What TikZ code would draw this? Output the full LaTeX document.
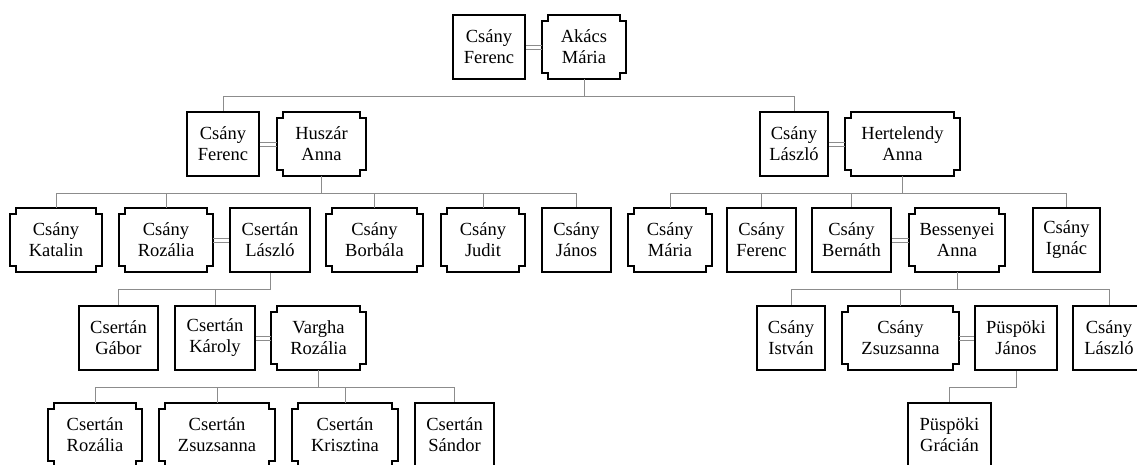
\documentclass[tikz,border=0pt]{standalone}
\usepackage{fontspec}
\setmainfont{Liberation Serif}
\usetikzlibrary{calc}
\tikzset{ frame/.style  = { draw       = black
                          , line width = 1.5pt
                          , line join  = miter
                          },
          person/.style = { rectangle
                          , minimum height = 64pt
                          , inner sep      = 0pt
                          , align          = center
                          , font           = \fontsize{18.5}{21}\selectfont
                          },
          male/.style   = { person
                          , frame
                          },
          female/.style = { person },
          link/.style   = { draw       = black!45
                          , line width = 1pt
                          }
        }
\begin{document}
\begin{tikzpicture}[x=1pt, y=-1pt]
      \useasboundingbox (0,0) rectangle (1137,464);
      \clip (0,0) rectangle (1137,464);
      % generation 1
       \node[male,   minimum width=72]  (f1) at ( 489, 47) {Csány\\Ferenc};
       \node[female, minimum width=84]  (m1) at ( 584, 47) {Akács\\Mária};
      % generation 2
       \node[male,   minimum width=72]  (f2) at ( 223,144) {Csány\\Ferenc};
       \node[female, minimum width=89]  (ha) at (321.5,144) {Huszár\\Anna};
       \node[male,   minimum width=68]  (l2) at ( 794,144) {Csány\\László};
       \node[female, minimum width=115] (he) at (902.5,144) {Hertelendy\\Anna};
      % generation 3
       \node[female, minimum width=92]  (ka) at (  56,240) {Csány\\Katalin};
       \node[female, minimum width=94]  (ro) at ( 166,240) {Csány\\Rozália};
       \node[male,   minimum width=80]  (cl) at ( 270,240) {Csertán\\László};
       \node[female, minimum width=97]  (bo) at (374.5,240) {Csány\\Borbála};
       \node[female, minimum width=84]  (ju) at ( 483,240) {Csány\\Judit};
       \node[male,   minimum width=69]  (ja) at (576.5,240) {Csány\\János};
       \node[female, minimum width=84]  (ma) at ( 670,240) {Csány\\Mária};
       \node[male,   minimum width=69]  (fe) at (761.5,240) {Csány\\Ferenc};
       \node[male,   minimum width=79]  (be) at (851.5,240) {Csány\\Bernáth};
       \node[female, minimum width=96]  (ba) at ( 957,240) {Bessenyei\\Anna};
       \node[male,   minimum width=67]  (ig) at (1066.5,240) {Csány\\Ignác};
      % generation 4
       \node[male,   minimum width=79]  (ga) at (118.5,338) {Csertán\\Gábor};
       \node[male,   minimum width=80]  (kr) at ( 215,338) {Csertán\\Károly};
       \node[female, minimum width=95]  (va) at (318.5,338) {Vargha\\Rozália};
       \node[male,   minimum width=68]  (is) at ( 791,338) {Csány\\István};
       \node[female, minimum width=117] (zs) at (900.5,338) {Csány\\Zsuzsanna};
       \node[male,   minimum width=82]  (pj) at (1016,338) {Püspöki\\János};
       \node[male,   minimum width=72]  (l4) at (1109,338) {Csány\\László};
      % generation 5
       \node[female, minimum width=94]  (r5) at (  95,435) {Csertán\\Rozália};
       \node[female, minimum width=116] (z5) at ( 217,435) {Csertán\\Zsuzsanna};
       \node[female, minimum width=106] (k5) at ( 345,435) {Csertán\\Krisztina};
       \node[male,   minimum width=79]  (s5) at (454.5,435) {Csertán\\Sándor};
       \node[male,   minimum width=83]  (gr) at (949.5,435) {Püspöki\\Grácián};
      % notched frames
      \foreach \n in {m1,ha,he,ka,ro,bo,ju,ma,ba,va,zs,r5,z5,k5}
        \draw[frame] ($(\n.north west)+(6,0)$) -- ($(\n.north east)+(-6,0)$)
            -- ++(0,6) -- ++(6,0) -- ($(\n.south east)+(0,-6)$) -- ++(-6,0)
            -- ++(0,6) -- ($(\n.south west)+(6,0)$) -- ++(0,-6) -- ++(-6,0)
            -- ($(\n.north west)+(0,6)$) -- ++(6,0) -- cycle;
      % marriages
      \foreach \a/\b in {f1/m1, f2/ha, l2/he, ro/cl, kr/va, be/ba, zs/pj}
        \draw[link] ([yshift=2pt]\a.east) -- ([yshift=2pt]\b.west)
                    ([yshift=-2pt]\a.east) -- ([yshift=-2pt]\b.west);
      % descent
      \foreach \p/\c in {m1/f2, m1/l2, ha/ka, ha/ro, ha/bo, ha/ju, ha/ja,
                         he/ma, he/fe, he/be, he/ig, cl/ga, cl/kr,
                         va/r5, va/z5, va/k5, va/s5, ba/is, ba/zs, ba/l4, pj/gr}
        \draw[link] (\p.south) -- ++(0,17) -| (\c.north);
    \end{tikzpicture}
\end{document}
